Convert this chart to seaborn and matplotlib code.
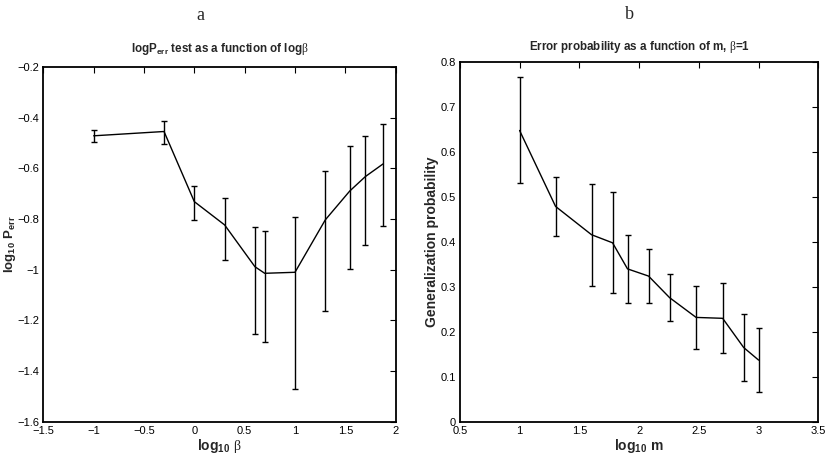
import numpy as np
import pandas as pd
import matplotlib
matplotlib.use("Agg")
import matplotlib.pyplot as plt
import seaborn as sns

# ---- data: panel a ----
log_beta = [-1.0, -0.301, 0.0, 0.301, 0.602, 0.699, 1.0, 1.301, 1.544, 1.699, 1.875]
log_perr = [-0.471, -0.454, -0.731, -0.823, -0.988, -1.014, -1.010, -0.803, -0.689, -0.632, -0.582]
perr_upper = [-0.449, -0.412, -0.668, -0.715, -0.832, -0.848, -0.790, -0.610, -0.510, -0.470, -0.425]
perr_lower = [-0.496, -0.503, -0.805, -0.961, -1.254, -1.285, -1.471, -1.164, -0.998, -0.902, -0.827]

# ---- data: panel b ----
log_m = [1.0, 1.301, 1.602, 1.778, 1.903, 2.079, 2.255, 2.477, 2.699, 2.875, 3.0]
gen_prob = [0.648, 0.479, 0.416, 0.398, 0.340, 0.324, 0.276, 0.232, 0.230, 0.165, 0.137]
gen_err = [0.118, 0.066, 0.113, 0.112, 0.075, 0.060, 0.053, 0.071, 0.078, 0.074, 0.072]

xticks_a = [-1.5, -1, -0.5, 0, 0.5, 1, 1.5, 2]
yticks_a = [-1.6, -1.4, -1.2, -1, -0.8, -0.6, -0.4, -0.2]
xticks_b = [0.5, 1, 1.5, 2, 2.5, 3, 3.5]
yticks_b = [0, 0.1, 0.2, 0.3, 0.4, 0.5, 0.6, 0.7, 0.8]

sns.set_style("white")
plt.rcParams['font.family'] = ['Liberation Sans', 'DejaVu Sans']
plt.rcParams['mathtext.fontset'] = 'custom'
plt.rcParams['mathtext.rm'] = 'Liberation Sans'
plt.rcParams['mathtext.bf'] = 'Liberation Sans:bold'
plt.rcParams['mathtext.cal'] = 'Liberation Serif'
plt.rcParams['axes.unicode_minus'] = True

fig = plt.figure(figsize=(8.3, 4.58), dpi=100)
axA = fig.add_axes([0.0522, 0.0793, 0.4245, 0.774])
axB = fig.add_axes([0.554, 0.0793, 0.432, 0.785])

def style(ax):
    for s in ax.spines.values():
        s.set_visible(True)
        s.set_linewidth(1.3)
        s.set_color('black')
    ax.tick_params(direction='in', length=4, width=0.8, top=True, right=True,
                   labelsize=8, pad=3, colors='black')
    ax.grid(False)

# panel a
dfA = pd.DataFrame({'x': log_beta, 'y': log_perr})
sns.lineplot(data=dfA, x='x', y='y', ax=axA, color='black', linewidth=1.0)
ya = np.array(log_perr)
yerr_a = [ya - np.array(perr_lower), np.array(perr_upper) - ya]
axA.errorbar(log_beta, log_perr, yerr=yerr_a, fmt='none', ecolor='black',
             elinewidth=1.0, capsize=2.3, capthick=1.0)
axA.set_xlim(-1.5, 2)
axA.set_ylim(-1.6, -0.2)
axA.set_xticks(xticks_a)
axA.set_xticklabels([f"{v:g}".replace('-', '\u2212') for v in xticks_a])
axA.set_yticks(yticks_a)
axA.set_yticklabels([f"{v:g}".replace('-', '\u2212') for v in yticks_a])
axA.set_xlabel(r"log$_{\mathbf{10}}$ $\mathcal{\beta}$", fontsize=10, fontweight='bold')
axA.set_ylabel(r"log$_{\mathbf{10}}$ P$_{\mathbf{err}}$", fontsize=9.5, fontweight='bold')
axA.xaxis.set_label_coords(0.5, -0.042)
axA.yaxis.set_label_coords(-0.071, 0.5)
axA.set_title(r"logP$_{\mathbf{err}}$ test as a function of log$\mathcal{\beta}$", fontsize=8.4,
              fontweight='bold', pad=11)
style(axA)

# panel b
dfB = pd.DataFrame({'x': log_m, 'y': gen_prob})
sns.lineplot(data=dfB, x='x', y='y', ax=axB, color='black', linewidth=1.0)
axB.errorbar(log_m, gen_prob, yerr=gen_err, fmt='none', ecolor='black',
             elinewidth=1.0, capsize=2.3, capthick=1.0)
axB.set_xlim(0.5, 3.5)
axB.set_ylim(0, 0.8)
axB.set_xticks(xticks_b)
axB.set_xticklabels([f"{v:g}" for v in xticks_b])
axB.set_yticks(yticks_b)
axB.set_yticklabels([f"{v:g}" for v in yticks_b])
axB.set_xlabel(r"log$_{\mathbf{10}}$ m", fontsize=10, fontweight='bold')
axB.set_ylabel("Generalization probability", fontsize=10, fontweight='bold')
axB.xaxis.set_label_coords(0.5, -0.042)
axB.yaxis.set_label_coords(-0.058, 0.5)
axB.set_title(r"Error probability as a function of m, $\mathcal{\beta}$=1", fontsize=8.4,
              fontweight='bold', pad=9)
style(axB)

fig.text(0.241, 0.967, "a", fontsize=13, family='Liberation Serif', ha='center', va='center')
fig.text(0.758, 0.969, "b", fontsize=13, family='Liberation Serif', ha='center', va='center')

fig.savefig("out.png", dpi=100)
